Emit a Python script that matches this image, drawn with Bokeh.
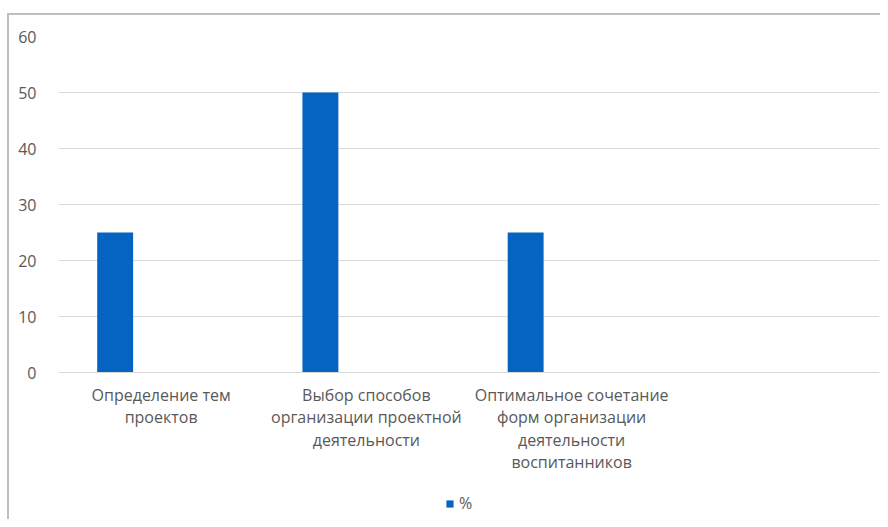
from bokeh.plotting import figure
from bokeh.models import (ColumnDataSource, FactorRange, Range1d, Legend, LegendItem, FixedTicker)
from bokeh.transform import dodge
from bokeh.embed import file_html
from bokeh.resources import INLINE

categories = ["Определение тем\nпроектов",
              "Выбор способов\nорганизации проектной\nдеятельности",
              "Оптимальное сочетание\nформ организации\nдеятельности\nвоспитанников",
              " "]
bar_categories = categories[:3]
values = [25, 50, 25]
series_name = "%"
y_ticks = [0, 10, 20, 30, 40, 50, 60]

FONT = "Open Sans"
TXT = "#595959"
GRID = "#d9d9d9"
BAR = "#0563C1"
EDGE = "#bfbfbf"

# frame extends below the value axis to hold category labels and legend
p = figure(frame_width=821, frame_height=483, x_range=FactorRange(*categories),
           y_range=Range1d(-26.25, 60),
           output_backend="svg", toolbar_location=None,
           min_border_left=58, min_border_right=1, min_border_top=36, min_border_bottom=0)
p.outline_line_color = None
p.background_fill_color = "white"
p.border_fill_alpha = 0
p.styles = {
    "background-color": "white",
    "background-image": f"linear-gradient({EDGE},{EDGE}), linear-gradient({EDGE},{EDGE})",
    "background-size": "2px 100%, 100% 2px",
    "background-position": "7px 13px, 7px 13px",
    "background-repeat": "no-repeat",
}

src = ColumnDataSource(dict(cat=bar_categories, val=values))
r = p.vbar(x=dodge("cat", -0.224, range=p.x_range), top="val", width=0.175, source=src,
           fill_color=BAR, line_color=None)

p.xgrid.grid_line_color = None
p.ygrid.grid_line_color = GRID
p.ygrid.grid_line_width = 1
p.yaxis.ticker = FixedTicker(ticks=y_ticks)
p.yaxis.axis_line_color = None
p.yaxis.major_tick_line_color = None
p.yaxis.minor_tick_line_color = None
p.yaxis.major_label_standoff = 16
p.yaxis.major_label_text_font = FONT
p.yaxis.major_label_text_font_size = "16px"
p.yaxis.major_label_text_color = TXT

p.xaxis.fixed_location = 0
p.xaxis.axis_line_color = GRID
p.xaxis.axis_line_width = 1
p.xaxis.major_tick_line_color = None
p.xaxis.minor_tick_line_color = None
p.xaxis.major_label_text_font = FONT
p.xaxis.major_label_text_font_size = "16px"
p.xaxis.major_label_text_color = TXT
p.xaxis.major_label_text_line_height = 1.03
p.xaxis.major_label_standoff = 5

legend = Legend(items=[LegendItem(label=series_name, renderers=[r])],
                location=(387, 5), orientation="horizontal",
                glyph_width=9, glyph_height=9, label_standoff=5, padding=0, margin=0,
                border_line_color=None, background_fill_alpha=0,
                label_text_font=FONT, label_text_font_size="16px", label_text_color=TXT)
p.add_layout(legend, "center")

open("out.html", "w").write(file_html(p, INLINE))
